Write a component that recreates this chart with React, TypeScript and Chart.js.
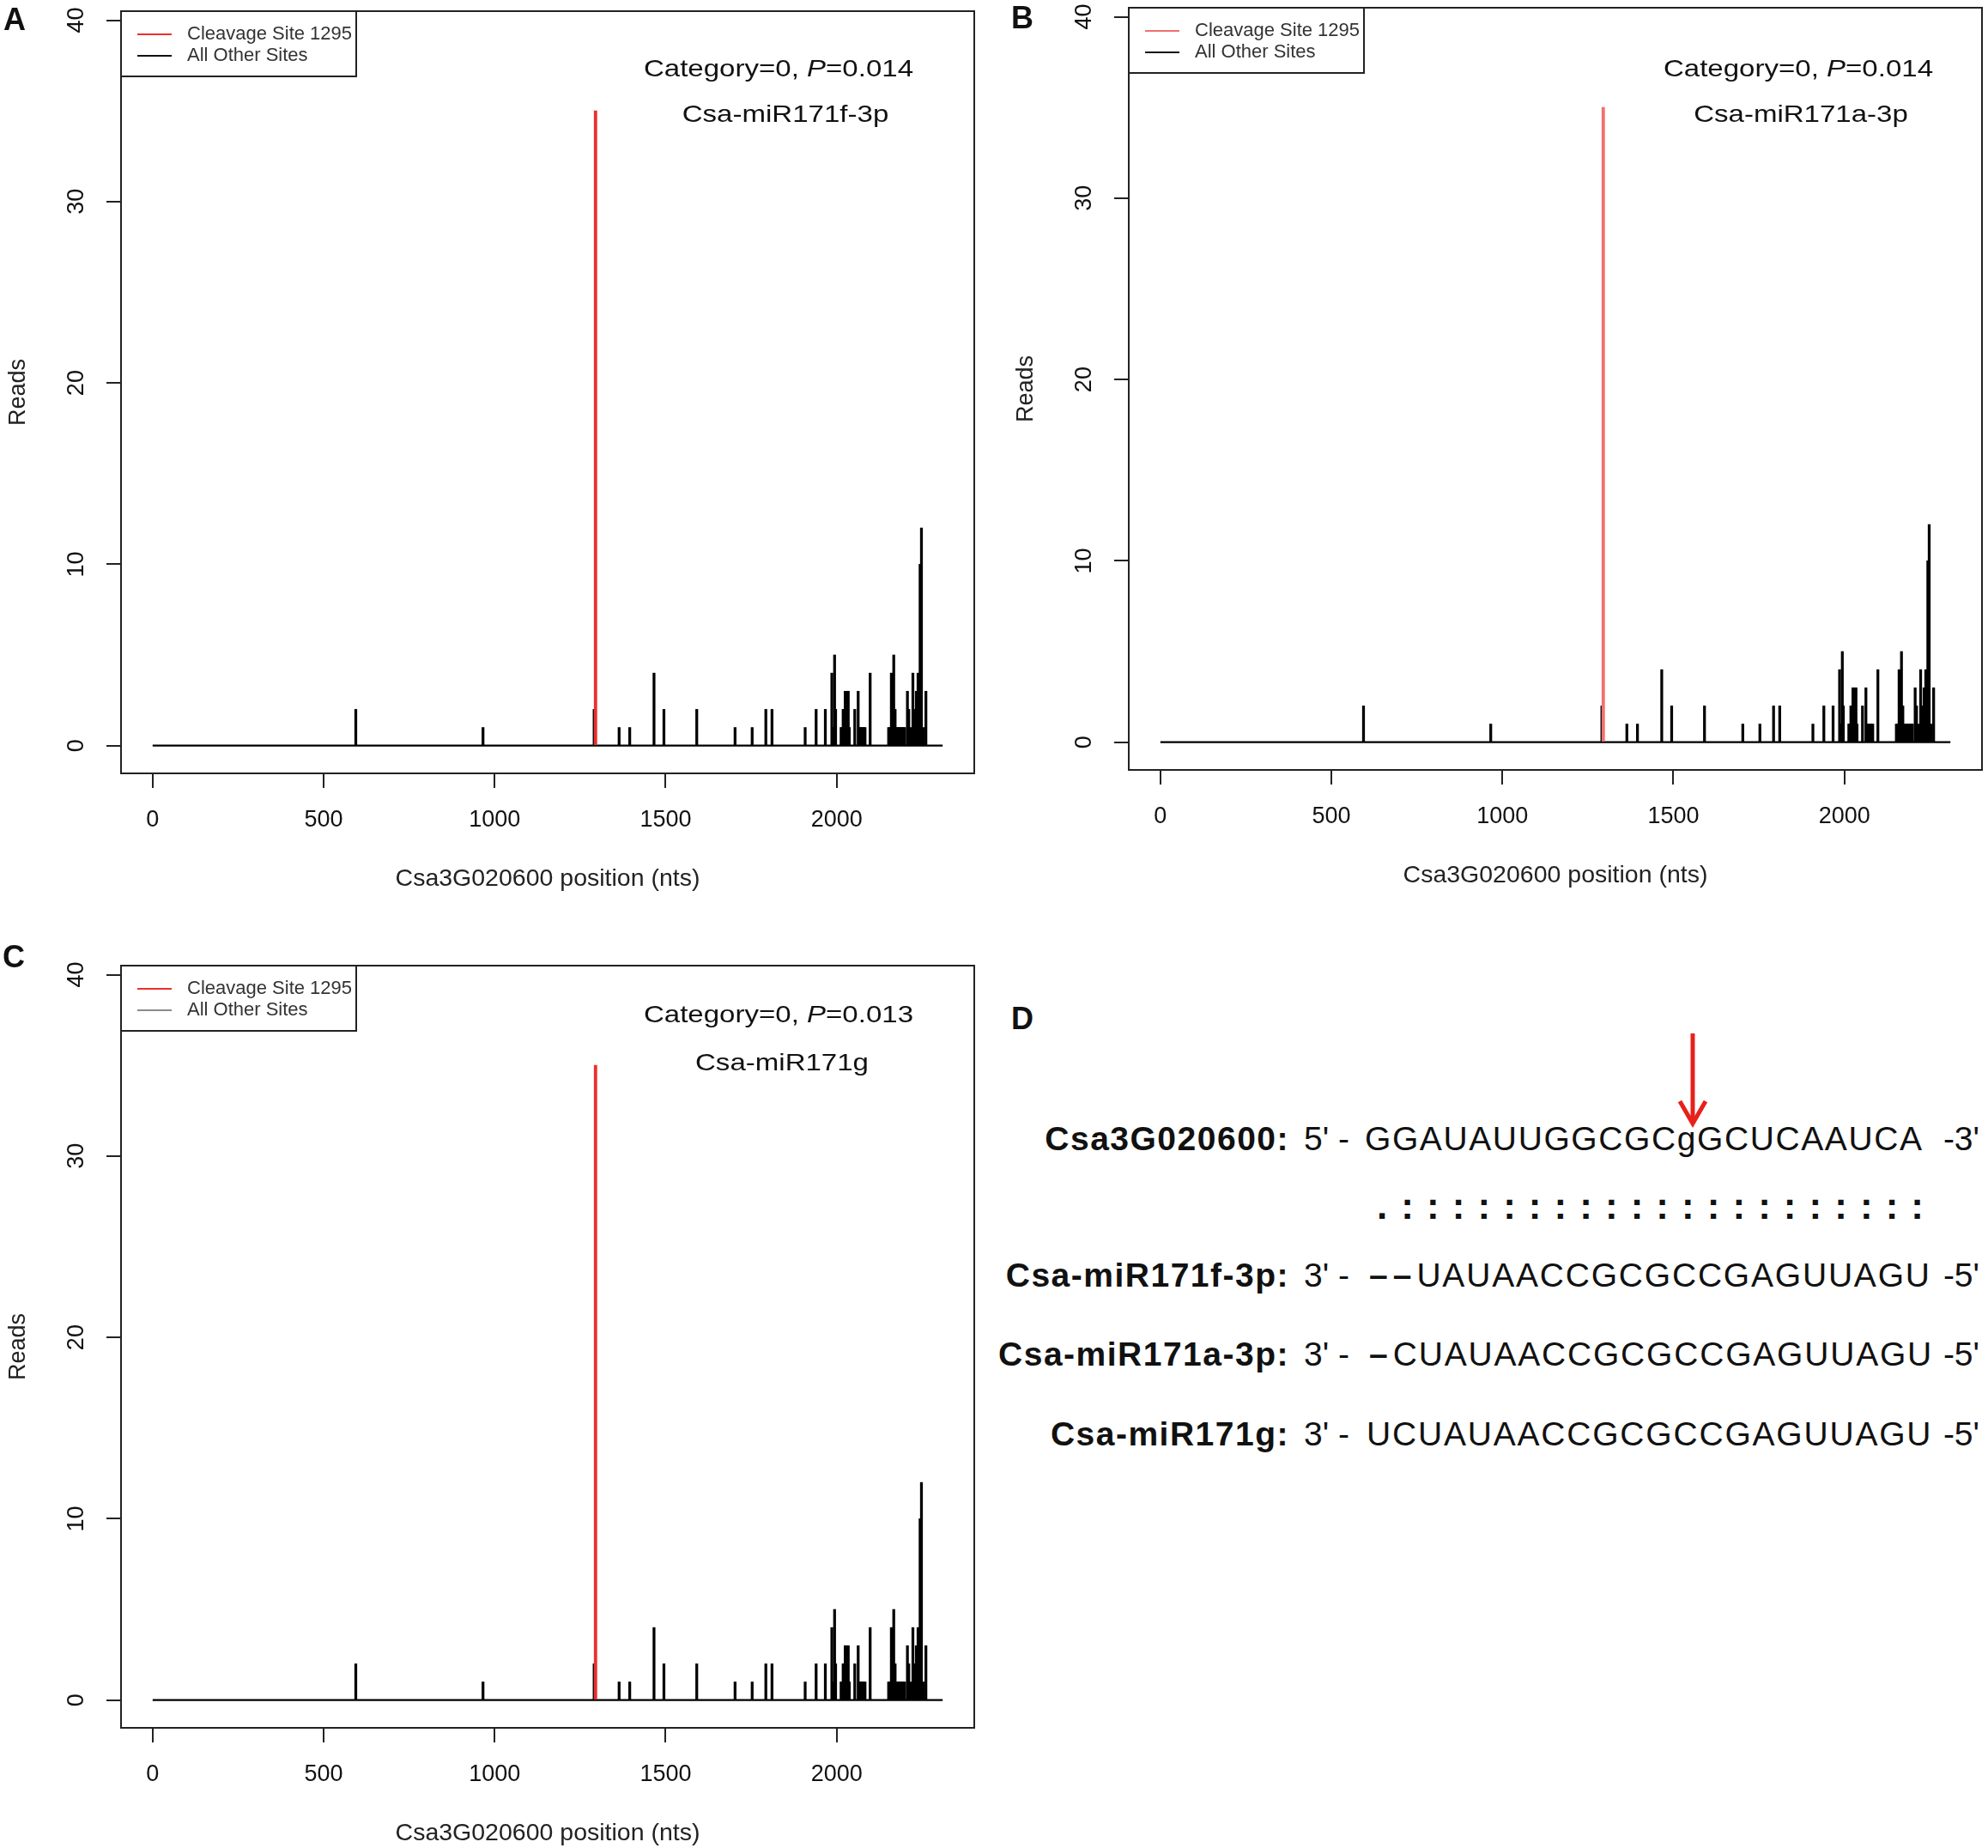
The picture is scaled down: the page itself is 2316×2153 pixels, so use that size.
import React, { useEffect, useRef } from 'react';
import { Chart, registerables } from 'chart.js';

Chart.register(...registerables);

const FONT = '"Liberation Sans", Arial, Helvetica, sans-serif';
const PAGE_W = 2316;
const PAGE_H = 2153;

// degradome reads along Csa3G020600
const geneLength = 2310;
const cleavageSite = 1295;
const cleavageReads = 35;
const otherSites = [
  594, 966, 1291, 1364, 1395, 1466, 1495, 1591, 1703, 1753,
  1793, 1811, 1908, 1940, 1967, 1986, 1989, 1994, 1997, 2013,
  2016, 2019, 2022, 2025, 2028, 2031, 2034, 2037, 2053, 2063,
  2067, 2071, 2075, 2079, 2083, 2098, 2152, 2156, 2160, 2164,
  2167, 2171, 2175, 2179, 2183, 2187, 2191, 2195, 2199, 2207,
  2211, 2216, 2223, 2228, 2233, 2238, 2244, 2248, 2253, 2261,
];
const otherReads = [
  2, 1, 2, 1, 1, 4, 2, 2, 1, 1,
  2, 2, 1, 2, 2, 4, 1, 5, 2, 1,
  1, 2, 2, 3, 3, 3, 3, 1, 2, 3,
  1, 1, 1, 1, 1, 4, 1, 1, 4, 1,
  5, 2, 1, 1, 1, 1, 1, 1, 1, 3,
  2, 1, 4, 2, 3, 4, 10, 12, 1, 3,
];
const xTicks = [0, 500, 1000, 1500, 2000];
const yTicks = [0, 10, 20, 30, 40];
const xTitle = 'Csa3G020600 position (nts)';
const yTitle = 'Reads';
const cleavageLabel = 'Cleavage Site 1295';
const otherLabel = 'All Other Sites';

// panel D: target / miRNA alignment
const targetName = 'Csa3G020600:';
const targetSeq = ['GGAUAUUGGCGC', 'g', 'GCUCAAUCA'];
const mirnaNames = ['Csa-miR171f-3p:', 'Csa-miR171a-3p:', 'Csa-miR171g:'];
const mirnaGaps = ['––', '–', ''];
const mirnaSeqs = ['UAUAACCGCGCCGAGUUAGU', 'CUAUAACCGCGCCGAGUUAGU', 'UCUAUAACCGCGCCGAGUUAGU'];
const pairing = '.:::::::::::::::::::::';

type Part = { t: string; italic?: boolean };
type Note = { x: number; y: number; parts: Part[] };
type LegendItem = { label: string; color: string };

const framePlugin = {
  id: 'rFrame',
  afterDraw(chart: any, _args: any, opts: any) {
    const { ctx, chartArea: a } = chart;
    ctx.save();
    ctx.strokeStyle = '#222';
    ctx.lineWidth = 2;
    ctx.strokeRect(a.left, a.top, a.right - a.left, a.bottom - a.top);

    // R-style legend in the top-left corner
    ctx.strokeRect(a.left, a.top, 274, 76);
    ctx.font = `22px ${FONT}`;
    ctx.textBaseline = 'middle';
    ctx.textAlign = 'left';
    ctx.fillStyle = '#333';
    (opts.legend as LegendItem[]).forEach((item, i) => {
      const y = a.top + 27 + i * 25;
      ctx.strokeStyle = item.color;
      ctx.lineWidth = 2.2;
      ctx.beginPath();
      ctx.moveTo(a.left + 19, y);
      ctx.lineTo(a.left + 59, y);
      ctx.stroke();
      ctx.fillText(item.label, a.left + 77, y);
    });

    // category / miRNA notes
    ctx.fillStyle = '#111';
    ctx.textBaseline = 'alphabetic';
    (opts.notes as Note[]).forEach((note) => {
      ctx.save();
      ctx.translate(note.x, note.y);
      ctx.scale(1.18, 1);
      const fonts = note.parts.map((p) => `${p.italic ? 'italic ' : ''}28px ${FONT}`);
      const widths = note.parts.map((p, i) => {
        ctx.font = fonts[i];
        return ctx.measureText(p.t).width;
      });
      let x = -widths.reduce((s, w) => s + w, 0) / 2;
      note.parts.forEach((p, i) => {
        ctx.font = fonts[i];
        ctx.fillText(p.t, x, 0);
        x += widths[i];
      });
      ctx.restore();
    });
    ctx.restore();
  },
};

interface PlotProps {
  left: number;
  top: number;
  pValue: string;
  mirna: string;
  redColor: string;
  otherLegendColor: string;
  notePos: number[];
}

const ReadsPlot: React.FC<PlotProps> = ({ left, top, pValue, mirna, redColor, otherLegendColor, notePos }) => {
  const canvasRef = useRef<HTMLCanvasElement>(null);

  useEffect(() => {
    if (!canvasRef.current) return;
    Chart.defaults.font.family = FONT;

    const chart = new Chart(canvasRef.current, {
      type: 'bar',
      data: {
        datasets: [
          {
            type: 'bar',
            label: cleavageLabel,
            data: [{ x: cleavageSite, y: cleavageReads }],
            backgroundColor: redColor,
            barThickness: 3.2,
            grouped: false,
            order: 0,
          },
          {
            type: 'bar',
            label: otherLabel,
            data: otherSites.map((x, i) => ({ x, y: otherReads[i] })),
            backgroundColor: '#000',
            barThickness: 2.6,
            grouped: false,
            order: 1,
          },
          {
            type: 'line',
            label: 'baseline',
            data: [{ x: 0, y: 0 }, { x: geneLength, y: 0 }],
            borderColor: '#000',
            borderWidth: 2.4,
            pointRadius: 0,
            order: 2,
          },
        ] as any,
      },
      options: {
        responsive: false,
        animation: false,
        layout: { padding: { top: 13, right: 25, left: 0, bottom: 0 } },
        plugins: {
          legend: { display: false },
          tooltip: { enabled: false },
          rFrame: {
            legend: [
              { label: cleavageLabel, color: redColor },
              { label: otherLabel, color: otherLegendColor },
            ],
            notes: [
              { x: notePos[0], y: notePos[1], parts: [{ t: 'Category=0, ' }, { t: 'P', italic: true }, { t: '=' + pValue }] },
              { x: notePos[2], y: notePos[3], parts: [{ t: mirna }] },
            ],
          },
        } as any,
        scales: {
          x: {
            type: 'linear',
            min: -92.4,
            max: 2402.4,
            offset: false,
            afterBuildTicks: (s: any) => { s.ticks = xTicks.map((v) => ({ value: v })); },
            afterFit: (s: any) => {
              s.height = 159;
              s.paddingLeft = 0;
              s.paddingRight = 0;
            },
            grid: { drawOnChartArea: false, drawTicks: true, tickLength: 17, color: '#222', lineWidth: 2, offset: false },
            border: { display: false },
            ticks: {
              padding: 21,
              font: { size: 27 },
              color: '#111',
              minRotation: 0,
              maxRotation: 0,
              autoSkip: false,
              callback: (v: any) => String(v),
            },
            title: { display: true, text: xTitle, font: { size: 28.5 }, color: '#222', padding: { top: 0, bottom: 19 } },
          },
          y: {
            type: 'linear',
            min: -1.53,
            max: 40.5,
            afterBuildTicks: (s: any) => { s.ticks = yTicks.map((v) => ({ value: v })); },
            afterFit: (s: any) => {
              s.width = 141;
              s.paddingTop = 0;
              s.paddingBottom = 0;
            },
            grid: { drawOnChartArea: false, drawTicks: true, tickLength: 17, color: '#222', lineWidth: 2 },
            border: { display: false },
            ticks: {
              padding: 19,
              font: { size: 27 },
              color: '#111',
              minRotation: 90,
              maxRotation: 90,
              crossAlign: 'center',
              autoSkip: false,
              callback: (v: any) => String(v),
            },
            title: { display: true, text: yTitle, font: { size: 27 }, color: '#222', padding: { top: 5, bottom: 0 } },
          },
        } as any,
      },
      plugins: [framePlugin as any],
    });

    return () => chart.destroy();
  }, [pValue, mirna, redColor, otherLegendColor, notePos]);

  return (
    <canvas
      ref={canvasRef}
      width={1160}
      height={1060}
      style={{ position: 'absolute', left, top, width: 1160, height: 1060 }}
    />
  );
};

interface TxtProps {
  x: number;
  y: number; // baseline
  size: number;
  bold?: boolean;
  align?: 'left' | 'right' | 'center';
  color?: string;
  spacing?: number;
  children: React.ReactNode;
}

const Txt: React.FC<TxtProps> = ({ x, y, size, bold, align = 'left', color = '#111', spacing = 0, children }) => {
  const style: React.CSSProperties = {
    position: 'absolute',
    top: y - 0.8465 * size,
    fontFamily: FONT,
    fontSize: size,
    lineHeight: `${size}px`,
    fontWeight: bold ? 700 : 400,
    color,
    whiteSpace: 'pre',
    letterSpacing: spacing,
  };
  if (align === 'right') style.right = PAGE_W - x;
  else if (align === 'center') {
    style.left = x;
    style.transform = 'translateX(-50%)';
  } else style.left = x;
  return <div style={style}>{children}</div>;
};

const rowBaselines = [1499, 1591, 1684];

const AlignmentPanel: React.FC = () => (
  <>
    <Txt x={1178} y={1199} size={36} bold>D</Txt>
    <svg style={{ position: 'absolute', left: 1950, top: 1195 }} width={44} height={125}>
      <line x1={22} y1={9} x2={22} y2={113} stroke="#e8201c" strokeWidth={5} />
      <polyline points="7,88 22,114 37,88" fill="none" stroke="#e8201c" strokeWidth={5} />
    </svg>

    <Txt x={1502} y={1340} size={39} bold align="right" spacing={1.5}>{targetName}</Txt>
    <Txt x={1519} y={1340} size={39}>5' -</Txt>
    <Txt x={1590} y={1340} size={39} spacing={1.6}>
      {targetSeq[0]}{targetSeq[1]}{targetSeq[2]}
    </Txt>
    <Txt x={2306} y={1340} size={39} align="right">-3'</Txt>

    {pairing.split('').map((c, i) => (
      <Txt key={i} x={1610 + i * 29.7} y={1420} size={44} bold align="center">{c}</Txt>
    ))}

    {mirnaNames.map((name, i) => (
      <React.Fragment key={name}>
        <Txt x={1502} y={rowBaselines[i]} size={39} bold align="right" spacing={1.5}>{name}</Txt>
        <Txt x={1519} y={rowBaselines[i]} size={39}>3' -</Txt>
        <Txt x={i === 2 ? 1592 : 1595} y={rowBaselines[i]} size={39} spacing={1.8}>
          <span style={{ fontWeight: 700, letterSpacing: 6 }}>{mirnaGaps[i]}</span>
          {mirnaSeqs[i]}
        </Txt>
        <Txt x={2306} y={rowBaselines[i]} size={39} align="right">-5'</Txt>
      </React.Fragment>
    ))}
  </>
);

const notesA = [907, 89, 915, 142];
const notesB = [921, 93, 924, 146];
const notesC = [907, 79, 911, 135];

export default function App() {
  return (
    <div style={{ position: 'absolute', left: 0, top: 0, width: PAGE_W, height: PAGE_H, overflow: 'hidden', background: '#fff' }}>
      <ReadsPlot left={0} top={0} pValue="0.014" mirna="Csa-miR171f-3p" redColor="#e8312f" otherLegendColor="#111" notePos={notesA} />
      <ReadsPlot left={1174} top={-4} pValue="0.014" mirna="Csa-miR171a-3p" redColor="#f07070" otherLegendColor="#111" notePos={notesB} />
      <ReadsPlot left={0} top={1112} pValue="0.013" mirna="Csa-miR171g" redColor="#e8312f" otherLegendColor="#8a8a8a" notePos={notesC} />
      <Txt x={4} y={35} size={36} bold>A</Txt>
      <Txt x={1178} y={33} size={36} bold>B</Txt>
      <Txt x={3} y={1127} size={36} bold>C</Txt>
      <AlignmentPanel />
    </div>
  );
}
